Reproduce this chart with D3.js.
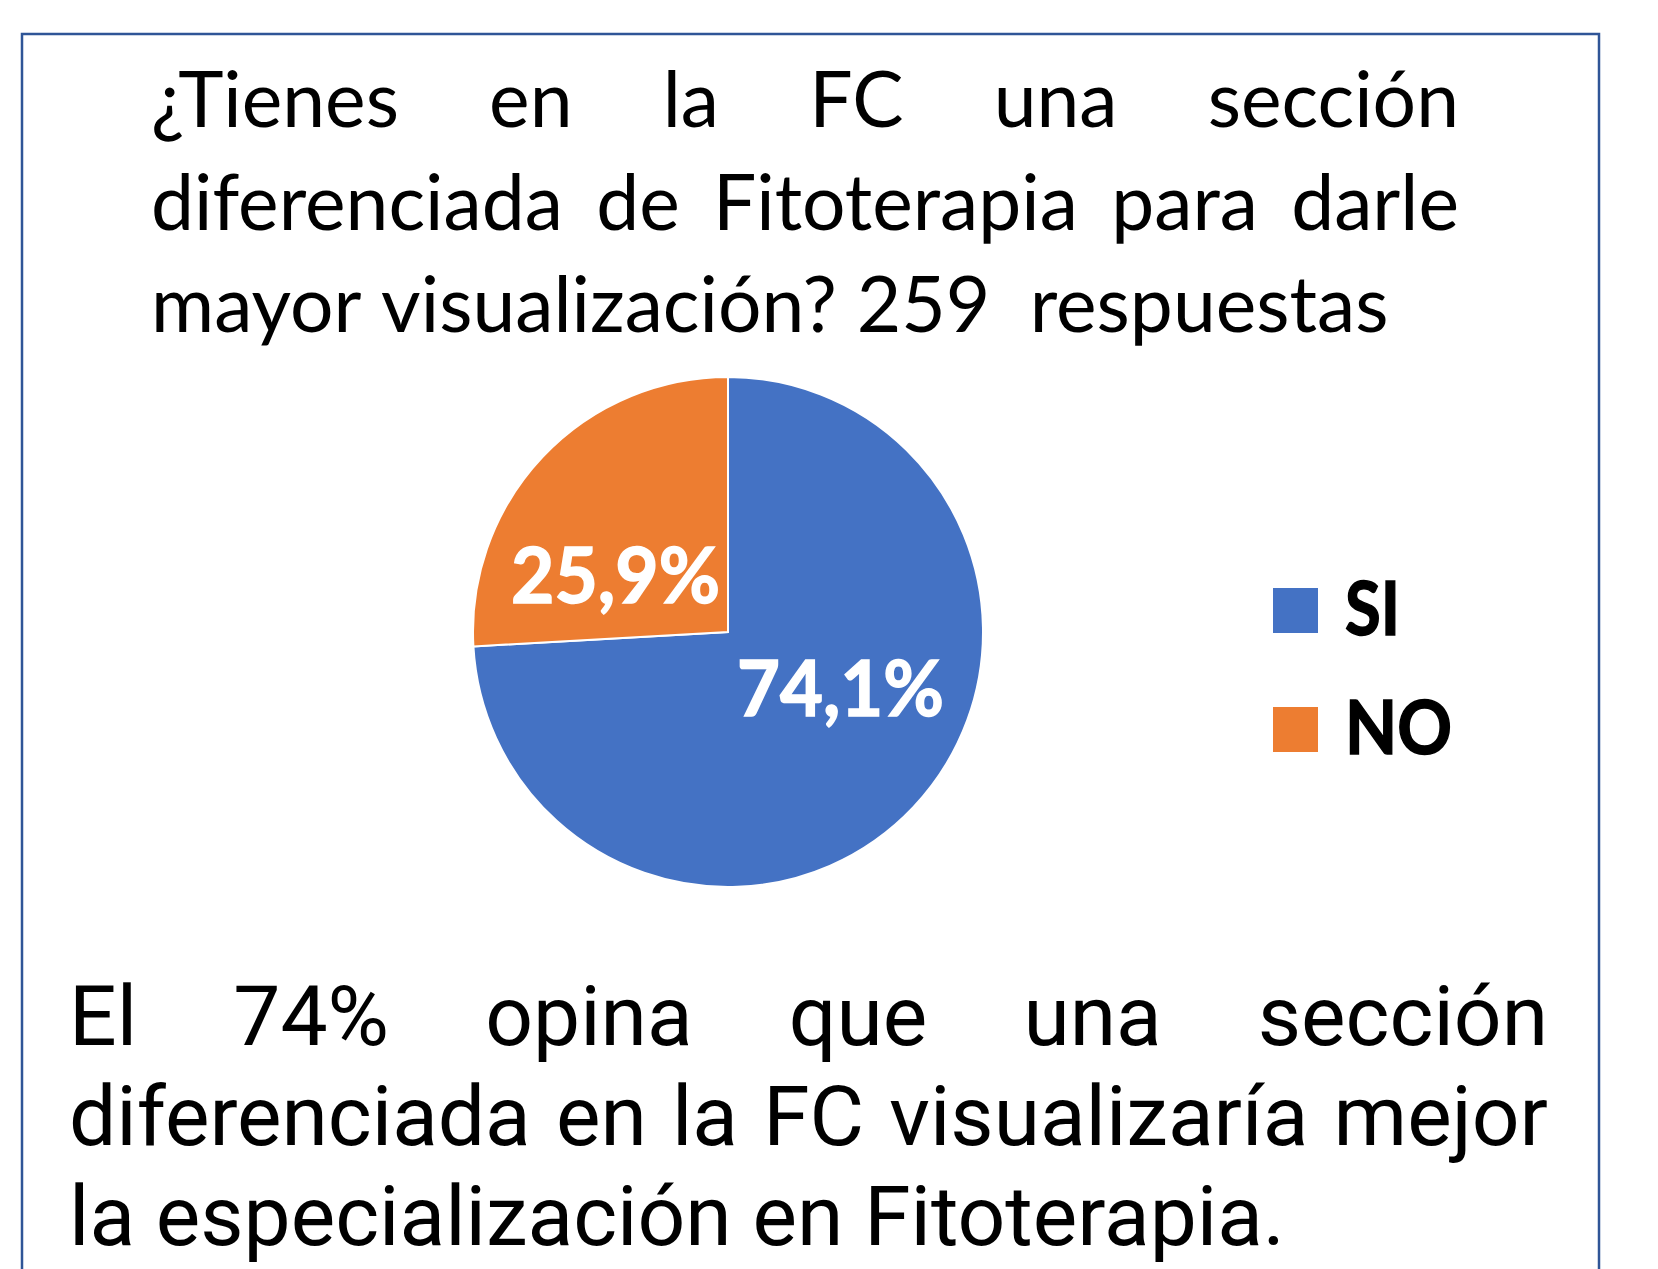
<!DOCTYPE html>
<html lang="es">
<head>
<meta charset="UTF-8" />
<title>Sección de Fitoterapia</title>
<style>
	html, body {
		margin: 0;
		padding: 0;
		background: #fff;
	}
	svg {
		display: block;
	}
	.title {
		font-family: Lato, "Open Sans", sans-serif;
		font-size: 78px;
		fill: #000;
	}
	.note {
		font-family: Roboto, "Liberation Sans", sans-serif;
		font-size: 84px;
		fill: #000;
	}
	.slice-label {
		font-family: Lato, sans-serif;
		font-weight: bold;
		font-size: 77px;
		fill: #fff;
		stroke: #fff;
		stroke-width: 1.5px;
	}
	.legend text {
		font-family: Lato, sans-serif;
		font-weight: bold;
		font-size: 75px;
		fill: #000;
		stroke: #000;
		stroke-width: 1.5px;
	}
</style>
</head>
<body>
<script src="https://cdn.jsdelivr.net/npm/d3@7"></script>
<script>
	// data
	var categories = ["SI", "NO"];
	var percents = [74.1, 25.9];
	var colors = ["#4472C4", "#ED7D31"];

	var titleLines = [
		"¿Tienes en la FC una sección",
		"diferenciada de Fitoterapia para darle",
		"mayor visualización? 259  respuestas"
	];
	var noteLines = [
		"El 74% opina que una sección",
		"diferenciada en la FC visualizaría mejor",
		"la especialización en Fitoterapia."
	];

	var width = 1658, height = 1269;

	var svg = d3.select("body").append("svg")
		.attr("width", width)
		.attr("height", height);

	// frame (bottom edge runs off the picture)
	svg.append("rect")
		.attr("x", 22).attr("y", 34)
		.attr("width", 1577).attr("height", 1300)
		.attr("fill", "none")
		.attr("stroke", "#2F5597")
		.attr("stroke-width", 2.5);

	// paragraph with justified lines, last line flush left.
	// words are squeezed a little so the fallback font takes the width of the original.
	function paragraph(cls, lines, left, right, y0, lh, lastWidth) {
		var g = svg.append("g").attr("class", cls);
		var probe = g.append("text").style("white-space", "pre");
		function measure(s) {
			probe.text(s);
			return probe.node().getComputedTextLength();
		}
		var sx = lastWidth / measure(lines[lines.length - 1]);
		var spaceW = measure("a a") - measure("aa");

		var rows = lines.map(function(line) {
			var words = line.split(/ +/);
			return {
				words: words,
				gaps: (line.match(/ +/g) || []).map(function(s) { return s.length; }),
				widths: words.map(function(w) { return measure(w) * sx; })
			};
		});
		probe.remove();

		rows.forEach(function(r, i) {
			var justify = i < rows.length - 1;
			var sum = d3.sum(r.widths);
			var gapPx = justify ? (right - left - sum) / (r.words.length - 1) : 0;
			var x = left;
			r.words.forEach(function(w, k) {
				g.append("text")
					.attr("x", x)
					.attr("y", y0 + i * lh)
					.attr("textLength", r.widths[k])
					.attr("lengthAdjust", "spacingAndGlyphs")
					.text(w);
				if (k < r.gaps.length) {
					x += r.widths[k] + (justify ? gapPx : spaceW * sx * r.gaps[k]);
				}
			});
		});
	}

	paragraph("title", titleLines, 151, 1459, 127, 102.5, 1234);
	paragraph("note", noteLines, 69, 1548, 1045, 100, 1216);

	// pie
	var cx = 728, cy = 632, radius = 255;

	var pie = d3.pie().sort(null).value(function(d) { return d; });
	var arcs = pie(percents);

	var arc = d3.arc().innerRadius(0).outerRadius(radius);

	var gPie = svg.append("g")
		.attr("transform", "translate(" + cx + "," + cy + ")");

	gPie.selectAll("path.slice")
		.data(arcs)
		.enter().append("path")
		.attr("class", "slice")
		.attr("d", arc)
		.attr("fill", function(d, i) { return colors[i]; })
		.attr("stroke", "#fff")
		.attr("stroke-width", 2);

	// labels sit a bit counter-clockwise of the slice middle, like the original
	var shift = 0.29;
	var labelArc = d3.arc()
		.innerRadius(126).outerRadius(126)
		.startAngle(function(d) { return d.startAngle - shift; })
		.endAngle(function(d) { return d.endAngle - shift; });

	var locale = d3.formatLocale({ decimal: ",", thousands: ".", grouping: [3], currency: ["", "€"] });
	var fmt = locale.format(".1f");
	var labelW = [207, 209];

	gPie.selectAll("text.slice-label")
		.data(arcs)
		.enter().append("text")
		.attr("class", "slice-label")
		.attr("x", function(d, i) { return labelArc.centroid(d)[0] - labelW[i] / 2; })
		.attr("y", function(d) { return labelArc.centroid(d)[1]; })
		.attr("dy", "0.36em")
		.attr("textLength", function(d, i) { return labelW[i]; })
		.attr("lengthAdjust", "spacingAndGlyphs")
		.text(function(d) { return fmt(d.data) + "%"; });

	// legend
	var ly = d3.scalePoint().domain(categories).range([588, 707]);
	var legendW = [55, 107];

	var legend = svg.append("g").attr("class", "legend")
		.selectAll("g")
		.data(categories)
		.enter().append("g")
		.attr("transform", function(d) { return "translate(1273," + ly(d) + ")"; });

	legend.append("rect")
		.attr("width", 45)
		.attr("height", 45)
		.attr("fill", function(d, i) { return colors[i]; });

	legend.append("text")
		.attr("x", 72)
		.attr("y", 47)
		.attr("textLength", function(d, i) { return legendW[i]; })
		.attr("lengthAdjust", "spacingAndGlyphs")
		.text(function(d) { return d; });
</script>
</body>
</html>
